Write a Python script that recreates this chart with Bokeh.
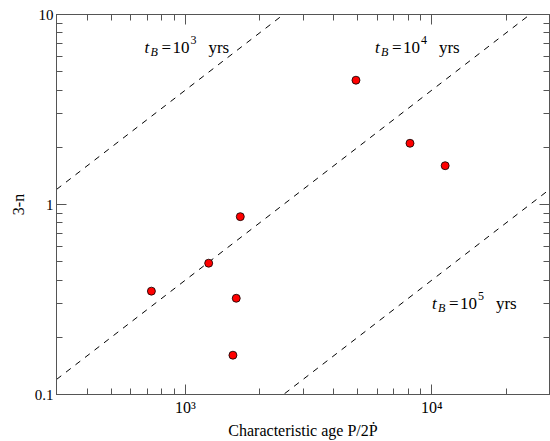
from bokeh.plotting import figure
from bokeh.models import LogAxis, FixedTicker, ColumnDataSource
from bokeh.core.properties import value
from bokeh.embed import file_html
from bokeh.resources import INLINE

# --- data ---
char_age = [728, 1243, 1670, 1608, 1559, 4920, 8150, 11320]
three_minus_n = [0.350, 0.491, 0.863, 0.321, 0.161, 4.51, 2.10, 1.60]

# theoretical lines: 3-n = 4 * tau / t_B, drawn over the x range
line_x = [300, 30000]
line_tB1e3 = [1.2, 120.0]
line_tB1e4 = [0.12, 12.0]
line_tB1e5 = [0.012, 1.2]

x_major = [1000, 10000]
x_minor = [300, 400, 500, 600, 700, 800, 900, 2000, 3000, 4000, 5000,
           6000, 7000, 8000, 9000, 20000, 30000]
x_labels = {1000: "10³", 10000: "10⁴"}
y_major = [0.1, 1, 10]
y_minor = [0.2, 0.3, 0.4, 0.5, 0.6, 0.7, 0.8, 0.9, 2, 3, 4, 5, 6, 7, 8, 9]
y_labels = {0.1: "0.1", 1: "1", 10: "10"}

tB_exponents = ["3", "4", "5"]
label_x = [682, 5875, 10000]
label_y = [6.7, 6.7, 0.30]

FONT = "'Liberation Serif'"
LFONT = "'Liberation Serif'"
AX = "#555555"

p = figure(width=550, height=441, x_axis_type="log", y_axis_type="log",
           x_range=(300, 30000), y_range=(0.1, 10),
           output_backend="svg", toolbar_location=None,
           min_border_left=56, min_border_right=1,
           min_border_top=14, min_border_bottom=45)
p.grid.visible = False
p.outline_line_color = AX
p.background_fill_color = "white"
p.border_fill_color = "white"

xt = FixedTicker(ticks=x_major, minor_ticks=x_minor)
yt = FixedTicker(ticks=y_major, minor_ticks=y_minor)


def style_axis(ax, ticker, labels=None):
    ax.ticker = ticker
    ax.axis_line_color = AX
    ax.axis_line_width = 1
    ax.major_tick_line_color = AX
    ax.minor_tick_line_color = AX
    ax.major_tick_in = 10
    ax.major_tick_out = 0
    ax.minor_tick_in = 6
    ax.minor_tick_out = 0
    if labels is None:
        ax.major_label_text_font_size = "1px"
        ax.major_label_text_alpha = 0
        ax.major_label_standoff = 0
    else:
        ax.major_label_overrides = labels
        ax.major_label_text_font = FONT
        ax.major_label_text_font_size = "15px"
        ax.major_label_text_color = "black"
        ax.axis_label_text_font = FONT
        ax.axis_label_text_font_size = "16px"
        ax.axis_label_text_font_style = "normal"
        ax.axis_label_text_color = "black"


style_axis(p.xaxis[0], xt, x_labels)
style_axis(p.yaxis[0], yt, y_labels)
p.xaxis[0].major_label_standoff = 4
p.xaxis[0].major_label_text_font_size = "16px"
p.yaxis[0].major_label_standoff = 3
p.xaxis[0].axis_label = "Characteristic age P/2Ṗ"
p.xaxis[0].axis_label_standoff = 3
p.yaxis[0].axis_label = "3-n"
p.yaxis[0].axis_label_standoff = 5

top = LogAxis()
right = LogAxis()
style_axis(top, FixedTicker(ticks=x_major, minor_ticks=x_minor))
style_axis(right, FixedTicker(ticks=y_major, minor_ticks=y_minor))
p.add_layout(top, "above")
p.add_layout(right, "right")

for ys in (line_tB1e3, line_tB1e4, line_tB1e5):
    p.line(line_x, ys, line_color="black", line_width=1, line_dash="6 6")

p.scatter(char_age, three_minus_n, size=8, fill_color="red",
          line_color="black", line_width=0.8)

# labels t_B = 10^k yrs, built from pieces
pieces = dict(x=[], y=[], text=[], dx=[], dy=[], size=[], style=[])
parts = [("t", 0, 0, "17px", "italic"),
         ("B", 6, 4, "12px", "italic"),
         ("=", 17, 0, "17px", "normal"),
         ("10", 28, 0, "17px", "normal"),
         (None, 46, -8, "12px", "normal"),
         ("yrs", 64, 0, "17px", "normal")]
for lx, ly, ex in zip(label_x, label_y, tB_exponents):
    for txt, dx, dy, sz, st in parts:
        pieces["x"].append(lx)
        pieces["y"].append(ly)
        pieces["text"].append(ex if txt is None else txt)
        pieces["dx"].append(dx)
        pieces["dy"].append(dy)
        pieces["size"].append(sz)
        pieces["style"].append(st)
src = ColumnDataSource(pieces)
p.text(x="x", y="y", text="text", x_offset="dx", y_offset="dy",
       text_font_size="size", text_font_style="style", source=src,
       text_font=value(LFONT), text_color="black",
       text_baseline="alphabetic", text_align="left")

open("out.html", "w").write(file_html(p, INLINE))
